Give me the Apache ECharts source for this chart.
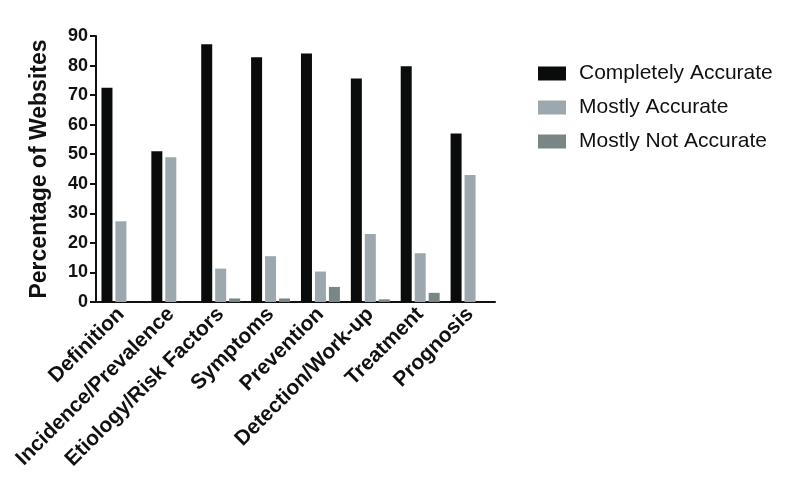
<!DOCTYPE html>
<html>
<head>
<meta charset="utf-8">
<script src="https://cdn.jsdelivr.net/npm/echarts@6/dist/echarts.min.js"></script>
<style>html,body{margin:0;padding:0;background:#fff}#c{width:797px;height:496px}</style>
</head>
<body>
<div id="c"></div>
<script>
const categories = ['Definition', 'Incidence/Prevalence', 'Etiology/Risk Factors', 'Symptoms', 'Prevention', 'Detection/Work-up', 'Treatment', 'Prognosis'];
const completelyAccurate = [72.5, 51, 87.2, 82.8, 84.1, 75.6, 79.8, 57];
const mostlyAccurate = [27.3, 49, 11.3, 15.5, 10.3, 23, 16.5, 43];
const mostlyNotAccurate = [0, 0, 1.2, 1.2, 5.1, 0.9, 3.1, 0];
const yTicks = [0, 10, 20, 30, 40, 50, 60, 70, 80, 90];

const FONT = '"Liberation Sans", Arial, Helvetica, sans-serif';
const chart = echarts.init(document.getElementById('c'), null, {renderer: 'canvas'});
const mk = (name, data, color) => ({
  name, type: 'bar', data, barWidth: 11, barGap: '27%',
  itemStyle: {color}, emphasis: {disabled: true}
});
chart.setOption({
  animation: false,
  backgroundColor: '#ffffff',
  textStyle: {fontFamily: FONT},
  grid: {left: 96, right: 302, top: 36, bottom: 194, containLabel: false},
  legend: {
    orient: 'vertical', left: 533, top: 58,
    itemWidth: 28, itemHeight: 14, itemGap: 13,
    icon: 'rect',
    textStyle: {fontSize: 21, color: '#111', fontFamily: FONT, padding: [0, 0, 0, 8]},
    data: ['Completely Accurate', 'Mostly Accurate', 'Mostly Not Accurate']
  },
  xAxis: {
    type: 'category', data: categories,
    axisLine: {lineStyle: {color: '#111', width: 2}},
    axisTick: {alignWithLabel: true, length: 6, lineStyle: {color: '#111', width: 2}},
    axisLabel: {rotate: 45, fontSize: 21, fontWeight: 'bold', color: '#111', margin: 9, interval: 0, fontFamily: FONT}
  },
  yAxis: {
    type: 'value', min: 0, max: 90, interval: 10,
    name: 'Percentage of Websites', nameLocation: 'middle', nameGap: 45,
    nameTextStyle: {fontSize: 23, fontWeight: 'bold', color: '#111', fontFamily: FONT},
    axisLine: {show: true, lineStyle: {color: '#111', width: 2}},
    axisTick: {show: true, length: 6, lineStyle: {color: '#111', width: 2}},
    splitLine: {show: false},
    axisLabel: {fontSize: 18, fontWeight: 'bold', color: '#111', margin: 8, fontFamily: FONT,
      formatter: v => yTicks.includes(v) ? String(v) : ''}
  },
  series: [
    mk('Completely Accurate', completelyAccurate, '#0a0c0c'),
    mk('Mostly Accurate', mostlyAccurate, '#9ca7ae'),
    mk('Mostly Not Accurate', mostlyNotAccurate, '#7a8686')
  ]
});
</script>
</body>
</html>
